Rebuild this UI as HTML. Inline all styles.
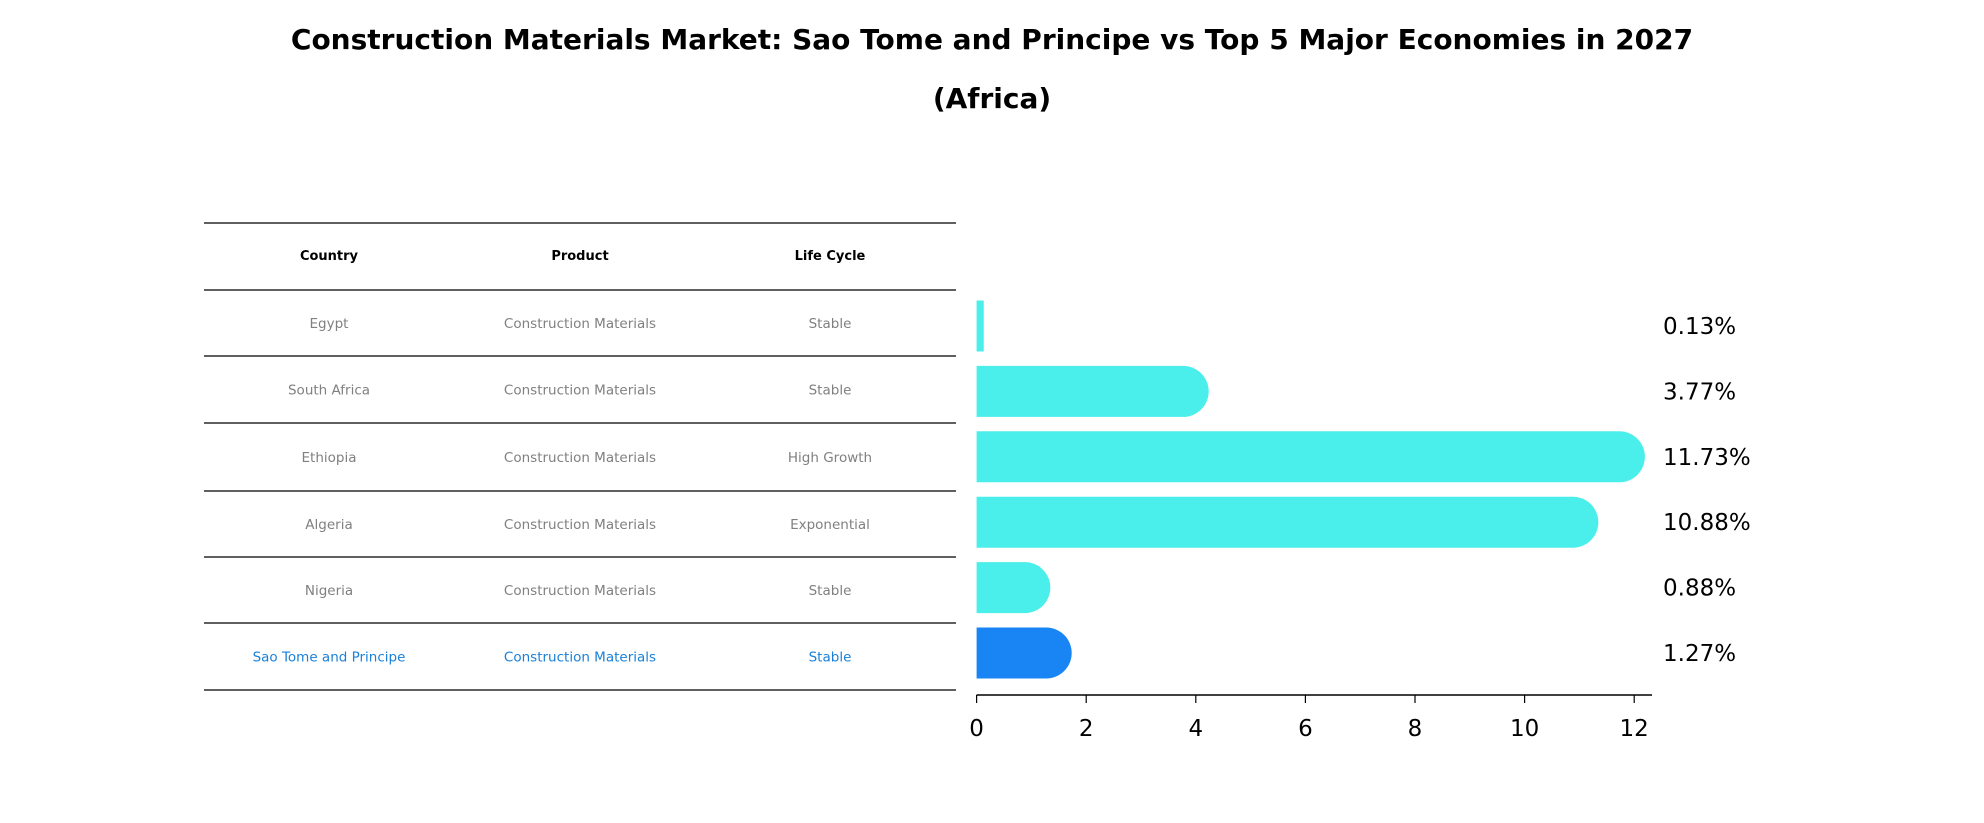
<!DOCTYPE html>
<html><head><meta charset="utf-8"><style>
body{margin:0;background:#fff;}
svg{display:block;font-family:"DejaVu Sans","Liberation Sans",sans-serif;}
</style></head><body>
<svg id="c" width="1984" height="823">
<text x="992" y="49" text-anchor="middle" font-size="28" font-weight="bold">Construction Materials Market: Sao Tome and Principe vs Top 5 Major Economies in 2027</text>
<text x="992" y="108" text-anchor="middle" font-size="28" font-weight="bold">(Africa)</text>
<g id="tbl"></g>
<g id="bars"></g>
<g id="axis"></g>
</svg>
<script>
const countries=["Egypt","South Africa","Ethiopia","Algeria","Nigeria","Sao Tome and Principe"];
const products=["Construction Materials","Construction Materials","Construction Materials","Construction Materials","Construction Materials","Construction Materials"];
const lifeCycles=["Stable","Stable","High Growth","Exponential","Stable","Stable"];
const values=[0.13,3.77,11.73,10.88,0.88,1.27];
const valueLabels=["0.13%","3.77%","11.73%","10.88%","0.88%","1.27%"];
const ticks=[0,2,4,6,8,10,12];
const NS="http://www.w3.org/2000/svg";
function mk(t,a,p){const e=document.createElementNS(NS,t);for(const k in a)e.setAttribute(k,a[k]);p.appendChild(e);return e;}
const x0=976.6,ux=54.8;
const X=v=>x0+v*ux;
const Y=i=>326+i*65.4;
const tbl=document.getElementById('tbl'),bars=document.getElementById('bars'),axis=document.getElementById('axis');
const lines=[223,290,356,423,491,557,623,690];
lines.forEach((y,i)=>{const l=mk('line',{x1:204,x2:956,y1:y,y2:y,stroke:'#000','stroke-width':1.2},tbl);

});
const cx=[329,580,830];
["Country","Product","Life Cycle"].forEach((h,j)=>{const t=mk('text',{x:cx[j],y:260,'text-anchor':'middle','font-size':13,'font-weight':'bold'},tbl);t.textContent=h;

});
countries.forEach((c,i)=>{
 const last=i===countries.length-1;const col=last?'#1a80d8':'#808080';
 const yy=(lines[i+1]+lines[i+2])/2+5;
 [c,products[i],lifeCycles[i]].forEach((s,j)=>{const t=mk('text',{x:cx[j],y:yy,'text-anchor':'middle','font-size':13.5,fill:col},tbl);t.textContent=s;
 
 });
 const h=51,r=25.5,yc=Y(i),fill=last?'#1985f5':'#4aeeea';
 const w=X(values[i])-x0;
 const g=mk('g',{},bars);
 
 
 if(w>r*1.2){mk('path',{d:`M${x0} ${yc-h/2} H${x0+w} A${r} ${r} 0 0 1 ${x0+w} ${yc+h/2} H${x0} Z`,fill:fill},g);}
 else mk('rect',{x:x0,y:yc-h/2,width:Math.max(w,1),height:h,fill:fill},g);
 const t=mk('text',{x:1663,y:yc+8,'font-size':23},bars);t.textContent=valueLabels[i];
 
 
});
const al=mk('line',{x1:x0,x2:1652,y1:695,y2:695,stroke:'#000','stroke-width':1.5},axis);


ticks.forEach(v=>{const l=mk('line',{x1:X(v),x2:X(v),y1:695,y2:703,stroke:'#000','stroke-width':1.2},axis);


const t=mk('text',{x:X(v),y:736,'text-anchor':'middle','font-size':23},axis);t.textContent=v;

});
</script>
</body></html>
